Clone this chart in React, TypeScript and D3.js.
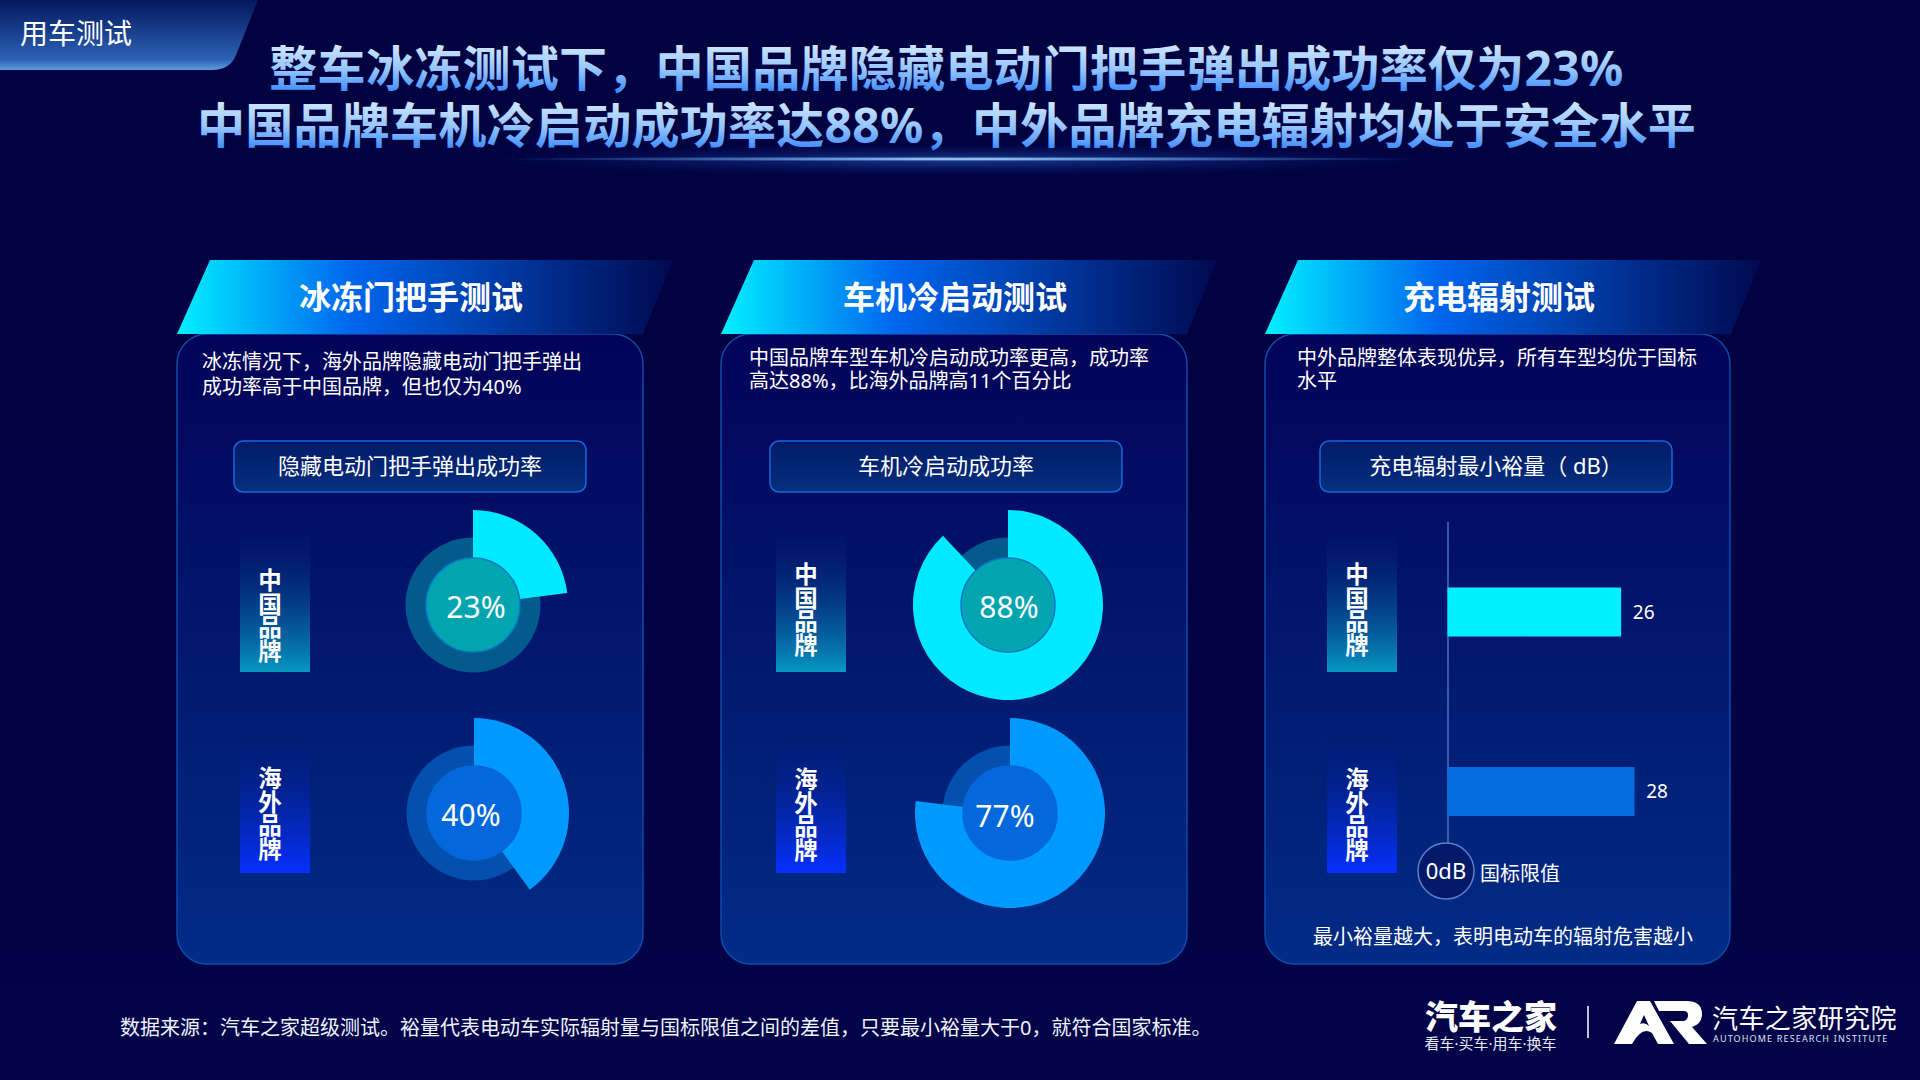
import * as d3 from "d3";

const CJK = '"Noto Sans", "Noto Sans CJK SC", sans-serif';

const brands = ["中国品牌", "海外品牌"];
const freezeRates = [23, 40];
const coldStartRates = [88, 77];
const radiationMargins = [26, 28];
const panelTitles = ["冰冻门把手测试", "车机冷启动测试", "充电辐射测试"];
const chartTitles = ["隐藏电动门把手弹出成功率", "车机冷启动成功率", "充电辐射最小裕量（ dB）"];
const panelNotes = [
  ["冰冻情况下，海外品牌隐藏电动门把手弹出", "成功率高于中国品牌，但也仅为40%"],
  ["中国品牌车型车机冷启动成功率更高，成功率", "高达88%，比海外品牌高11个百分比"],
  ["中外品牌整体表现优异，所有车型均优于国标", "水平"],
];
const headline = [
  "整车冰冻测试下，中国品牌隐藏电动门把手弹出成功率仅为23%",
  "中国品牌车机冷启动成功率达88%，中外品牌充电辐射均处于安全水平",
];
const footnote =
  "数据来源：汽车之家超级测试。裕量代表电动车实际辐射量与国标限值之间的差值，只要最小裕量大于0，就符合国家标准。";

// panel layout
const panels = [
  { x: 177, w: 466, tagX: 240, tagTop: [569, 767], boxX: 234, boxW: 352, titleX: 411, noteX: 202, noteY: [361.5, 386] },
  { x: 721, w: 466, tagX: 776, tagTop: [563, 768], boxX: 770, boxW: 352, titleX: 955, noteX: 749, noteY: [357.5, 380] },
  { x: 1265, w: 465, tagX: 1327, tagTop: [563, 768], boxX: 1320, boxW: 352, titleX: 1499, noteX: 1297, noteY: [357.5, 380] },
];
const tagY = [
  { y: 530, h: 142 },
  { y: 738, h: 135 },
];

const angle = d3.scaleLinear().domain([0, 100]).range([0, 2 * Math.PI]);
const barWidth = d3.scaleLinear().domain([0, 28]).range([0, 187]);

const tones = [
  { ring: "#035a8c", core: "#01a5b0", coreStroke: "#0b78c8", arc: "#00eaff", bar: "#00f0ff" },
  { ring: "#0350ae", core: "#0468dc", coreStroke: "#0468dc", arc: "#0099ff", bar: "#046ee0" },
];

function Donut({ cx, cy, value, tone, lx, ly }: { cx: number; cy: number; value: number; tone: number; lx: number; ly: number }) {
  const t = tones[tone];
  const arc = d3.arc<unknown>().innerRadius(47).outerRadius(95).startAngle(0).endAngle(angle(value));
  return (
    <g>
      <circle cx={cx} cy={cy} r={67.5} fill={t.ring} />
      <path transform={`translate(${cx},${cy})`} d={arc(null) ?? ""} fill={t.arc} />
      <circle cx={cx} cy={cy} r={47} fill={t.core} stroke={t.coreStroke} strokeWidth={1.5} />
      <text x={lx} y={ly} textAnchor="middle" dominantBaseline="central" fill="#fff" fontSize={30}>
        {value}%
      </text>
    </g>
  );
}

function BrandTag({ x, i, top }: { x: number; i: number; top: number }) {
  const { y, h } = tagY[i];
  return (
    <g>
      <rect x={x} y={y} width={70} height={h} fill={`url(#tag${i})`} />
      <text
        x={x + 30}
        y={top - 0.5}
        fill="#fff"
        fontSize={23.5}
        fontWeight={700}
        fontFamily='"Noto Sans CJK SC", sans-serif'
        style={{ writingMode: "vertical-rl", textOrientation: "upright" }}
      >
        {brands[i]}
      </text>
    </g>
  );
}

export default function App() {
  return (
    <svg width={1920} height={1080} viewBox="0 0 1920 1080" style={{ position: "fixed", left: 0, top: 0, display: "block" }} fontFamily={CJK}>
      <defs>
        <linearGradient id="bg" x1="0" y1="0" x2="0" y2="1">
          <stop offset="0" stopColor="#01023f" />
          <stop offset="1" stopColor="#020348" />
        </linearGradient>
        <linearGradient id="headlineFill" x1="0" y1="0" x2="0" y2="1">
          <stop offset="0.1" stopColor="#d8ecff" />
          <stop offset="0.55" stopColor="#93c4ff" />
          <stop offset="0.95" stopColor="#2c80ff" />
        </linearGradient>
        <linearGradient id="tab" x1="0" y1="0" x2="0" y2="1">
          <stop offset="0" stopColor="#04175e" />
          <stop offset="0.85" stopColor="#2c62b4" />
          <stop offset="1" stopColor="#5f9be0" />
        </linearGradient>
        <linearGradient id="panelHead" x1="0" y1="0" x2="1" y2="0">
          <stop offset="0" stopColor="#00f0ff" />
          <stop offset="0.35" stopColor="#0066ee" />
          <stop offset="1" stopColor="#01094f" />
        </linearGradient>
        <linearGradient id="panelBody" x1="0" y1="0" x2="0" y2="1">
          <stop offset="0" stopColor="#020358" />
          <stop offset="1" stopColor="#012c86" />
        </linearGradient>
        <linearGradient id="box" x1="0" y1="0" x2="0" y2="1">
          <stop offset="0" stopColor="#021a68" />
          <stop offset="1" stopColor="#04307f" />
        </linearGradient>
        <linearGradient id="tag0" x1="0" y1="0" x2="0" y2="1">
          <stop offset="0" stopColor="#04106a" stopOpacity={0.2} />
          <stop offset="1" stopColor="#0597c2" />
        </linearGradient>
        <linearGradient id="tag1" x1="0" y1="0" x2="0" y2="1">
          <stop offset="0" stopColor="#021c78" stopOpacity={0.2} />
          <stop offset="1" stopColor="#0530ff" />
        </linearGradient>
        <radialGradient id="glow">
          <stop offset="0" stopColor="#3f8dff" stopOpacity={0.4} />
          <stop offset="1" stopColor="#0a3fb0" stopOpacity={0} />
        </radialGradient>
        <radialGradient id="glowCore">
          <stop offset="0" stopColor="#f0faff" />
          <stop offset="0.3" stopColor="#8cc8ff" stopOpacity={0.75} />
          <stop offset="1" stopColor="#4f94e8" stopOpacity={0} />
        </radialGradient>
      </defs>

      <rect width={1920} height={1080} fill="url(#bg)" />

      {/* top-left tab */}
      <path d="M0 0H258L236 55Q230 70 212 70H0Z" fill="url(#tab)" />
      <text x={20} y={33} dominantBaseline="central" fill="#fff" fontSize={28}>用车测试</text>

      {/* headline */}
      {headline.map((line, i) => (
        <text key={i} x={946.5} y={67 + i * 57} textAnchor="middle" dominantBaseline="central" fill="url(#headlineFill)" fontSize={48} fontWeight={700} letterSpacing={0.28}>
          {line}
        </text>
      ))}
      <ellipse cx={961} cy={160} rx={480} ry={16} fill="url(#glow)" />
      <ellipse cx={961} cy={159} rx={470} ry={2.5} fill="url(#glowCore)" />

      {/* panels */}
      {panels.map((p, i) => (
        <g key={i}>
          <rect x={p.x} y={334} width={p.w} height={630} rx={30} fill="url(#panelBody)" stroke="#0d4ca8" strokeWidth={1.5} />
          <path d={`M${p.x} 334L${p.x + 33} 260H${p.x + 496}L${p.x + 466} 334Z`} fill="url(#panelHead)" />
          <text x={p.titleX} y={296} textAnchor="middle" dominantBaseline="central" fill="#fff" fontSize={32} fontWeight={700}>
            {panelTitles[i]}
          </text>
          {panelNotes[i].map((line, k) => (
            <text key={k} x={p.noteX} y={p.noteY[k]} dominantBaseline="central" fill="#fff" fontSize={20}>
              {line}
            </text>
          ))}
          <rect x={p.boxX} y={441} width={p.boxW} height={51} rx={9} fill="url(#box)" stroke="#1568dc" strokeWidth={1.5} />
          <text x={p.boxX + p.boxW / 2} y={465} textAnchor="middle" dominantBaseline="central" fill="#fff" fontSize={22}>
            {chartTitles[i]}
          </text>
          <BrandTag x={p.tagX} i={0} top={p.tagTop[0]} />
          <BrandTag x={p.tagX} i={1} top={p.tagTop[1]} />
        </g>
      ))}

      {/* freeze handle donuts */}
      <Donut cx={473} cy={605} value={freezeRates[0]} tone={0} lx={476} ly={606} />
      <Donut cx={474} cy={813} value={freezeRates[1]} tone={1} lx={471} ly={814} />

      {/* cold start donuts */}
      <Donut cx={1008} cy={605} value={coldStartRates[0]} tone={0} lx={1009} ly={606} />
      <Donut cx={1010} cy={813} value={coldStartRates[1]} tone={1} lx={1005} ly={815} />

      {/* radiation bars */}
      <line x1={1448} x2={1448} y1={522} y2={843} stroke="#4f6fc0" strokeWidth={1.5} />
      {radiationMargins.map((v, i) => (
        <g key={i}>
          <rect x={1447.5} y={[587.5, 767][i]} width={barWidth(v)} height={49} fill={tones[i].bar} />
          <text x={1448 + barWidth(v) + 22} y={[612, 791][i]} textAnchor="middle" dominantBaseline="central" fill="#fff" fontSize={19}>
            {v}
          </text>
        </g>
      ))}
      <circle cx={1446} cy={871} r={28} fill="#03196a" stroke="#5f7fc8" strokeWidth={1.5} />
      <text x={1446} y={870} textAnchor="middle" dominantBaseline="central" fill="#fff" fontSize={22}>0dB</text>
      <text x={1480} y={873} dominantBaseline="central" fill="#fff" fontSize={20}>国标限值</text>
      <text x={1503} y={936} textAnchor="middle" dominantBaseline="central" fill="#fff" fontSize={20}>
        最小裕量越大，表明电动车的辐射危害越小
      </text>

      {/* footer */}
      <text x={120} y={1027} dominantBaseline="central" fill="#eef3ff" fontSize={20}>{footnote}</text>

      {/* logos */}
      <text x={1491} y={1016} textAnchor="middle" dominantBaseline="central" fill="#fff" fontSize={33} fontWeight={900}>汽车之家</text>
      <text x={1490.5} y={1043} textAnchor="middle" dominantBaseline="central" fill="#e6e9f5" fontSize={15}>看车·买车·用车·换车</text>
      <line x1={1588} x2={1588} y1={1006} y2={1038} stroke="#fff" strokeWidth={1.5} />
      <path
        fill="#fff"
        d="M1614 1044L1637 1001H1650L1674 1044H1658L1652 1033Q1642 1026 1632 1044ZM1640 1024Q1645 1022 1649 1026L1644 1015Z"
        fillRule="evenodd"
      />
      <path fill="#fff" d="M1654 1001H1686Q1702 1001 1702 1014Q1702 1024 1692 1027L1707 1044H1689L1670 1021H1684Q1688 1020 1688 1015Q1688 1011 1684 1011H1659Z" />
      <text x={1712} y={1018} dominantBaseline="central" fill="#fff" fontSize={26} letterSpacing={0.4}>汽车之家研究院</text>
      <text x={1713} y={1038} dominantBaseline="central" fill="#dfe4f2" fontSize={9} letterSpacing={1.15}>AUTOHOME RESEARCH INSTITUTE</text>
    </svg>
  );
}
